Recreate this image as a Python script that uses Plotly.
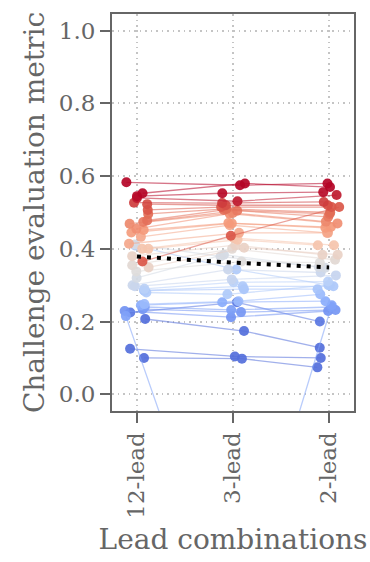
import numpy as np
import plotly.graph_objects as go

# ---------------- data ----------------
lead_labels = ["12-lead", "3-lead", "2-lead"]

score_12 = [0.583, 0.553, 0.545, 0.540, 0.527, 0.523, 0.507, 0.496, 0.478, 0.474,
            0.469, 0.455, 0.452, 0.445, 0.433, 0.365, 0.414, 0.409, 0.412, 0.400,
            0.400, 0.380, 0.349, 0.338, 0.355, 0.320, 0.300, 0.297, 0.290, 0.286,
            0.285, 0.280, 0.248, 0.245, 0.240, 0.234, 0.229, 0.215, 0.207, 0.225,
            0.125, 0.100]
score_3 = [0.575, 0.580, 0.553, 0.531, 0.526, 0.520, 0.515, 0.510, 0.507, 0.505,
           0.499, 0.497, 0.471, 0.470, 0.465, 0.436, 0.444, 0.343, 0.379, 0.430,
           0.425, 0.410, 0.403, 0.365, 0.400, 0.384, 0.343, 0.316, 0.308, 0.297,
           0.289, 0.275, 0.256, 0.253, 0.232, 0.226, 0.212, -0.640, 0.174, 0.253,
           0.104, 0.098]
score_2 = [0.580, 0.570, 0.556, 0.548, 0.529, 0.520, 0.515, 0.500, 0.496, 0.488,
           0.475, 0.470, 0.460, 0.458, 0.444, 0.515, 0.444, 0.300, 0.350, 0.410,
           0.410, 0.384, 0.384, 0.362, 0.370, 0.348, 0.335, 0.327, 0.310, 0.297,
           0.289, 0.300, 0.275, 0.256, 0.240, 0.232, 0.229, 0.245, 0.128, 0.200,
           0.100, 0.074]
mean_line = [0.379, 0.362, 0.349]

# ---------------- colours ----------------
cw_stops = [(0.0, (59, 76, 192)), (0.125, (98, 130, 234)), (0.25, (141, 176, 254)),
            (0.375, (184, 208, 249)), (0.5, (221, 221, 221)), (0.625, (245, 196, 173)),
            (0.75, (244, 154, 123)), (0.875, (222, 96, 77)), (1.0, (180, 4, 38))]
CMIN, CMAX = 0.16, 0.56


def coolwarm(t):
    t = min(max(t, 0.0), 1.0)
    for (t0, c0), (t1, c1) in zip(cw_stops[:-1], cw_stops[1:]):
        if t <= t1:
            f = (t - t0) / (t1 - t0) if t1 > t0 else 0
            return tuple(c0[i] + f * (c1[i] - c0[i]) for i in range(3))
    return cw_stops[-1][1]


n = len(score_12)
tvals = np.clip((np.array(score_2) - CMIN) / (CMAX - CMIN), 0.08, 1)

rng = np.random.RandomState(7)
jit = rng.uniform(-0.13, 0.13, size=(n, 3))

fig = go.Figure()
for i in np.argsort(tvals):
    r, g, b = coolwarm(tvals[i])
    xs = [k + jit[i, k] for k in range(3)]
    ys = [score_12[i], score_3[i], score_2[i]]
    fig.add_trace(go.Scatter(
        x=xs, y=ys, mode="lines+markers",
        line=dict(color=f"rgba({r:.0f},{g:.0f},{b:.0f},0.55)", width=1.3),
        marker=dict(color=f"rgba({r:.0f},{g:.0f},{b:.0f},0.92)", size=10),
        hoverinfo="skip", showlegend=False, cliponaxis=True))

fig.add_trace(go.Scatter(
    x=[0, 1, 2], y=mean_line, mode="lines",
    line=dict(color="black", width=4, dash="4px,6px"),
    showlegend=False, hoverinfo="skip"))

FONT = "DejaVu Serif"

axis_common = dict(
    showline=True, linewidth=2, linecolor="#666666", mirror=True,
    ticks="outside", ticklen=10, tickwidth=2, tickcolor="#666666",
    showgrid=True, gridcolor="#c4c4c4", gridwidth=1.5, griddash="1.5px,4px",
    zeroline=False, tickfont=dict(family=FONT, size=23, color="#666666"))

fig.update_layout(
    width=370, height=562,
    margin=dict(l=112, r=16, t=12, b=149),
    plot_bgcolor="white", paper_bgcolor="white",
    font=dict(family=FONT, color="#666666", size=23),
    showlegend=False,
    xaxis=dict(range=[-0.26, 2.26], tickvals=[0, 1, 2], ticktext=lead_labels,
               tickangle=-90, title=dict(text="Lead combinations",
                                         font=dict(family=FONT, size=28, color="#666666"),
                                         standoff=12),
               **axis_common),
    yaxis=dict(range=[-0.046, 1.046], tickvals=[0, 0.2, 0.4, 0.6, 0.8, 1.0],
               ticktext=["0.0", "0.2", "0.4", "0.6", "0.8", "1.0"],
               title=dict(text="Challenge evaluation metric",
                          font=dict(family=FONT, size=28, color="#666666"), standoff=6),
               **axis_common),
)

fig.write_html("out.html")
